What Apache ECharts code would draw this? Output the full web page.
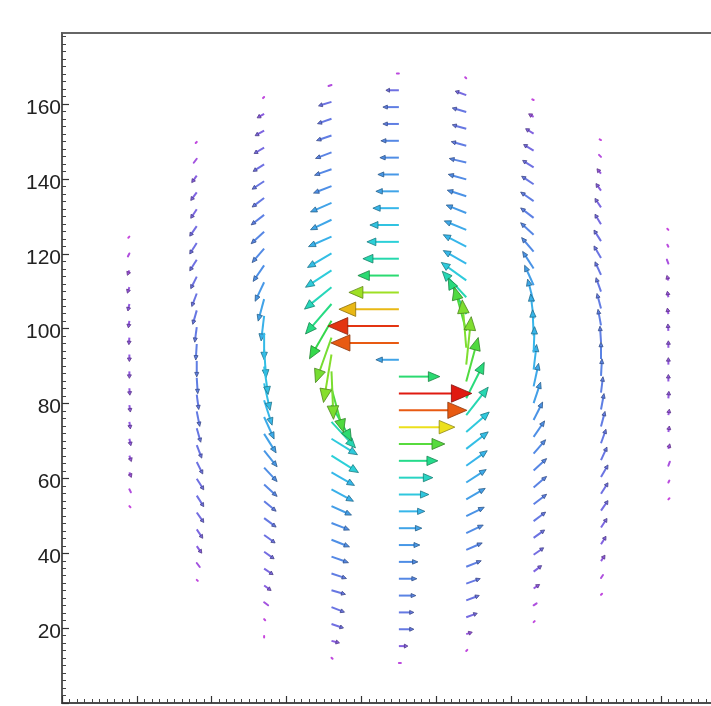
<!DOCTYPE html>
<html>
<head>
<meta charset="utf-8">
<script src="https://cdn.jsdelivr.net/npm/echarts@6/dist/echarts.min.js"></script>
<style>
  html, body { margin: 0; padding: 0; background: #ffffff; }
  #chart { width: 711px; height: 706px; }
</style>
</head>
<body>
<div id="chart"></div>
<script>
// Velocity field sampled along nine vertical columns.
// For every column: x position, row y positions, and velocity components (u, v).
const colX = [18, 36, 54, 72, 90, 108, 126, 144, 162];

const c1Y = [124.6, 120.1, 115.6, 111.1, 106.6, 102.1, 97.6, 93.1, 88.6, 84.1, 79.6, 75.1, 70.6, 66.1, 61.6, 57.1, 52.6];
const c1U = [-0.5, -1.5, -2, -2, -1.5, -1, -0.5, 0, 0, 0.5, 1, 1, 1.5, 2, 2, 1.5, 0.5];
const c1V = [-0.5, -3, -5, -6, -7, -7, -7, -7, -7, -7, -7, -7, -7, -6, -5, -3, -0.5];

const c2Y = [149.9, 145.4, 140.9, 136.4, 131.9, 127.4, 122.9, 118.4, 113.9, 109.4, 104.9, 100.4, 95.9, 91.4, 86.9, 82.4, 77.9, 73.4, 68.9, 64.4, 59.9, 55.4, 50.9, 46.4, 41.9, 37.4, 32.9];
const c2U = [-1, -3, -5, -6, -6, -7, -7, -7, -6, -5, -4, -2, -1, 0, 1, 2, 3, 4, 5, 6, 7, 7, 7, 6, 5, 3, 1];
const c2V = [-1, -4, -7, -8, -9, -10, -11, -11, -12, -13, -14, -15, -16, -16, -16, -15, -15, -14, -13, -12, -11, -11, -10, -9, -7, -4, -1];

const c3Y = [161.9, 157.4, 152.9, 148.4, 143.9, 139.4, 134.9, 130.4, 125.9, 121.4, 116.9, 112.4, 107.9, 103.4, 98.9, 94.4, 89.9, 85.4, 80.9, 76.4, 71.9, 67.4, 62.9, 58.4, 53.9, 49.4, 44.9, 40.4, 35.9, 31.4, 26.9, 22.4, 17.9];
const c3U = [-1, -7, -9, -10, -11, -12, -12, -13, -13, -12, -11, -9, -6, -3, 0, 2, 4, 6, 8, 10, 12, 13, 13, 13, 12, 12, 11, 10, 9, 7, 4, 1, 0];
const c3V = [-1, -4, -5, -6, -7, -8, -9, -10, -12, -14, -16, -19, -22, -25, -27, -28, -28, -27, -25, -22, -19, -16, -14, -12, -10, -9, -8, -7, -6, -5, -3, -1, -0.5];

const c4Y = [165.1, 160.6, 156.1, 151.6, 147.1, 142.6, 138.1, 133.6, 129.1, 124.6, 120.1, 115.6, 111.1, 106.6, 102.1, 97.6, 93.1, 88.6, 84.1, 79.6, 75.1, 70.6, 66.1, 61.6, 57.1, 52.6, 48.1, 43.6, 39.1, 34.6, 30.1, 25.6, 21.1, 16.6, 12.1];
const c4U = [-3, -13, -14, -15, -16, -17, -18, -21, -21, -23, -24, -26, -27, -26, -22, -16, -8, 2, 12, 20, 24, 26, 27, 23, 22, 20, 18, 18, 17, 15, 14, 13, 12, 8, 1];
const c4V = [-1, -4, -5, -5, -6, -6, -7, -9, -10, -10, -14, -17, -22, -30, -38, -45, -48, -48, -44, -36, -26, -16, -17, -13, -12, -9, -7, -7, -6, -5, -4, -5, -4, -2, -1];

const c5Y = [168.2, 163.7, 159.2, 154.7, 150.2, 145.7, 141.2, 136.7, 132.2, 127.7, 123.2, 118.7, 114.2, 109.7, 105.2, 100.7, 96.2, 91.7, 87.2, 82.7, 78.2, 73.7, 69.2, 64.7, 60.2, 55.7, 51.2, 46.7, 42.2, 37.7, 33.2, 28.7, 24.2, 19.7, 15.2, 10.7];
const c5U = [-2, -13, -16, -16, -18, -19, -21, -23, -26, -29, -32, -36, -41, -50, -60, -71, -68, -23, 41, 73, 68, 56, 46, 39, 34, 30, 26, 23, 21, 19, 18, 17, 15, 15, 9, 2];
const c5V = [0, 0, 0, 0, 0, 0, 0, 0, 0, 0, 0, 0, 0, 0, 0, 0, 0, 0, 0, 0, 0, 0, 0, 0, 0, 0, 0, 0, 0, 0, 0, 0, 0, 0, 0, 0];

const c6Y = [166.9, 162.4, 157.9, 153.4, 148.9, 144.4, 139.9, 135.4, 130.9, 126.4, 121.9, 117.4, 112.9, 108.4, 103.9, 99.4, 94.9, 90.4, 85.9, 81.4, 76.9, 72.4, 67.9, 63.4, 58.9, 54.4, 49.9, 45.4, 40.9, 36.4, 31.9, 27.4, 22.9, 18.4, 13.9];
const c6U = [-1, -11, -14, -14, -15, -17, -18, -19, -20, -22, -23, -23, -25, -24, -18, -12, -4, 5, 12, 18, 22, 23, 22, 21, 20, 19, 18, 17, 16, 15, 14, 13, 11, 6, 1];
const c6V = [1, 4, 4, 4, 4, 4, 5, 6, 8, 9, 12, 13, 18, 26, 36, 44, 48, 48, 44, 36, 28, 20, 17, 15, 13, 11, 9, 8, 7, 6, 5, 5, 4, 2, 1];

const c7Y = [161.1, 156.6, 152.1, 147.6, 143.1, 138.6, 134.1, 129.6, 125.1, 120.6, 116.1, 111.6, 107.1, 102.6, 98.1, 93.6, 89.1, 84.6, 80.1, 75.6, 71.1, 66.6, 62.1, 57.6, 53.1, 48.6, 44.1, 39.6, 35.1, 30.6, 26.1, 21.6];
const c7U = [-1, -5, -8, -10, -11, -12, -13, -13, -13, -12, -11, -9, -6, -3, -1, 1, 3, 5, 7, 9, 11, 12, 13, 13, 13, 12, 11, 10, 8, 6, 3, 1];
const c7V = [0.5, 3, 5, 6, 7, 8, 9, 10, 12, 14, 17, 20, 23, 25, 26, 26, 25, 23, 21, 18, 16, 14, 12, 11, 10, 9, 8, 7, 6, 4, 2, 1];

const c8Y = [150.4, 145.9, 141.4, 136.9, 132.4, 127.9, 123.4, 118.9, 114.4, 109.9, 105.4, 100.9, 96.4, 91.9, 87.4, 82.9, 78.4, 73.9, 69.4, 64.9, 60.4, 55.9, 51.4, 46.9, 42.4, 37.9, 33.4, 28.9];
const c8U = [-1, -2, -4, -5, -6, -6, -7, -7, -6, -5, -4, -3, -1, 0, 1, 2, 3, 4, 5, 6, 7, 7, 7, 6, 5, 4, 2, 1];
const c8V = [0.5, 2, 5, 7, 9, 10, 11, 12, 13, 14, 15, 16, 16, 17, 17, 16, 16, 15, 14, 13, 12, 11, 10, 9, 8, 6, 3, 1];

const c9Y = [126.4, 121.9, 117.4, 112.9, 108.4, 103.9, 99.4, 94.9, 90.4, 85.9, 81.4, 76.9, 72.4, 67.9, 63.4, 58.9, 54.4];
const c9U = [-0.5, -1, -1.5, -1.5, -1, -1, -0.5, 0, 0, 0, 0.5, 1, 1, 1.5, 1.5, 1, 0.5];
const c9V = [0.5, 2, 4, 5, 6, 6, 7, 7, 7, 7, 7, 6, 6, 5, 4, 2, 0.5];

// Axis tick labels
const yTickLabels = [20, 40, 60, 80, 100, 120, 140, 160];
const xMajorTicks = [0, 20, 40, 60, 80, 100, 120, 140, 160];

// Axis range and arrow length scale (axis units per velocity unit)
const AXIS_MIN = 0, AXIS_MAX = 179;
const ARROW_SCALE = 0.267;

// Rainbow colour table by speed
const speedStops  = [0, 8, 14, 20, 26, 32, 38, 44, 50, 56, 62, 68, 73];
const speedColors = ['#cc44dd', '#8a5ce0', '#6a74e2', '#4a92e6', '#36b6ea', '#2cd0d8', '#22dc98', '#34d84a', '#9ee024', '#ece01c', '#e8a412', '#e85a12', '#e01a10'];

function hexToRgb(h) {
  return [parseInt(h.slice(1, 3), 16), parseInt(h.slice(3, 5), 16), parseInt(h.slice(5, 7), 16)];
}
function speedColor(s, k) {
  k = k || 1;
  let i = 0;
  while (i < speedStops.length - 2 && s > speedStops[i + 1]) i++;
  const t = Math.max(0, Math.min(1, (s - speedStops[i]) / (speedStops[i + 1] - speedStops[i])));
  const a = hexToRgb(speedColors[i]), b = hexToRgb(speedColors[i + 1]);
  const c = a.map((v, j) => Math.round((v + (b[j] - v) * t) * k));
  return 'rgb(' + c.join(',') + ')';
}

const columns = [
  [c1Y, c1U, c1V], [c2Y, c2U, c2V], [c3Y, c3U, c3V], [c4Y, c4U, c4V], [c5Y, c5U, c5V],
  [c6Y, c6U, c6V], [c7Y, c7U, c7V], [c8Y, c8U, c8V], [c9Y, c9U, c9V]
];

const arrows = [];
columns.forEach((col, ci) => {
  const [ys, us, vs] = col;
  ys.forEach((y, i) => {
    const speed = Math.hypot(us[i], vs[i]);
    arrows.push([colX[ci], y, us[i] * ARROW_SCALE, vs[i] * ARROW_SCALE, speed]);
  });
});
// draw slow arrows first so the strong ones sit on top
arrows.sort((a, b) => a[4] - b[4]);

const minorTicks = [];
for (let t = 2; t < AXIS_MAX; t += 2) if (t % 20 !== 0) minorTicks.push(t);

function renderArrow(params, api) {
  const x = api.value(0), y = api.value(1), u = api.value(2), v = api.value(3), s = api.value(4);
  const p0 = api.coord([x, y]);
  const p1 = api.coord([x + u, y + v]);
  const dx = p1[0] - p0[0], dy = p1[1] - p0[1];
  const L = Math.hypot(dx, dy);
  const color = speedColor(s);
  if (L < 5) {
    const ex = L < 1.5 ? (dx / (L || 1)) * 1.5 : dx, ey = L < 1.5 ? (dy / (L || 1)) * 1.5 : dy;
    return {
      type: 'line',
      shape: { x1: p0[0], y1: p0[1], x2: p0[0] + ex, y2: p0[1] + ey },
      style: { stroke: color, lineWidth: 2, lineCap: 'round' }
    };
  }
  const ux = dx / L, uy = dy / L;
  const hl = Math.max(3.5, L * 0.28);
  const hw = Math.max(2, L * 0.12);
  const bx = p1[0] - ux * hl, by = p1[1] - uy * hl;
  return {
    type: 'group',
    children: [
      {
        type: 'line',
        shape: { x1: p0[0], y1: p0[1], x2: bx + ux * 1, y2: by + uy * 1 },
        style: { stroke: color, lineWidth: 2 }
      },
      {
        type: 'polygon',
        shape: { points: [[p1[0], p1[1]], [bx - uy * hw, by + ux * hw], [bx + uy * hw, by - ux * hw]] },
        style: { fill: color, stroke: speedColor(s, 0.6), lineWidth: 0.8, lineJoin: 'round' }
      }
    ]
  };
}

const chart = echarts.init(document.getElementById('chart'), null, { renderer: 'canvas' });

chart.setOption({
  backgroundColor: '#ffffff',
  animation: false,
  grid: {
    left: 62, top: 33, width: 670, height: 670,
    outerBoundsMode: 'none', containLabel: false,
    show: true, borderColor: '#666', borderWidth: 2
  },
  xAxis: [
    {
      type: 'value', min: AXIS_MIN, max: AXIS_MAX, position: 'bottom',
      axisLine: { show: true, lineStyle: { color: '#444', width: 1.5 } },
      axisTick: { show: true, inside: true, length: 7, customValues: xMajorTicks, lineStyle: { color: '#333', width: 1.2 } },
      axisLabel: { show: false },
      splitLine: { show: false }
    },
    {
      type: 'value', min: AXIS_MIN, max: AXIS_MAX, position: 'bottom',
      axisLine: { show: false },
      axisTick: { show: true, inside: true, length: 4, customValues: minorTicks, lineStyle: { color: '#444', width: 1 } },
      axisLabel: { show: false },
      splitLine: { show: false }
    }
  ],
  yAxis: [
    {
      type: 'value', min: AXIS_MIN, max: AXIS_MAX, position: 'left',
      axisLine: { show: true, lineStyle: { color: '#555', width: 1.5 } },
      axisTick: { show: true, inside: true, length: 7, customValues: [0].concat(yTickLabels), lineStyle: { color: '#333', width: 1.2 } },
      axisLabel: {
        show: true, customValues: yTickLabels, margin: 1,
        formatter: (v) => '{t|' + v + '}',
        rich: { t: { fontFamily: 'Liberation Sans, Arial, sans-serif', fontSize: 21, color: '#222', padding: [8, 0, 0, 0] } }
      },
      splitLine: { show: false }
    },
    {
      type: 'value', min: AXIS_MIN, max: AXIS_MAX, position: 'left',
      axisLine: { show: false },
      axisTick: { show: true, inside: true, length: 4, customValues: minorTicks, lineStyle: { color: '#444', width: 1 } },
      axisLabel: { show: false },
      splitLine: { show: false }
    }
  ],
  series: [
    {
      type: 'custom',
      coordinateSystem: 'cartesian2d',
      xAxisIndex: 0, yAxisIndex: 0,
      renderItem: renderArrow,
      data: arrows,
      clip: false,
      silent: true
    }
  ]
});
</script>
</body>
</html>
